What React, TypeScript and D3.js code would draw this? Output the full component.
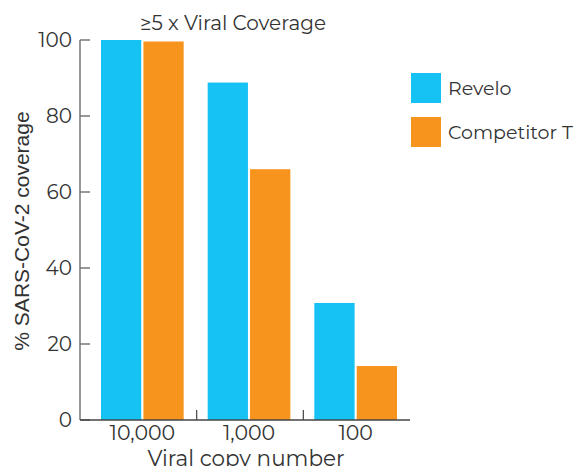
import * as d3 from 'd3';
import React from 'react';

const groups = ['10,000', '1,000', '100'];
const seriesNames = ['Revelo', 'Competitor T'];
const revelo = [100, 88.8, 30.8];
const competitor = [99.6, 66, 14.2];
const yTicks = [0, 20, 40, 60, 80, 100];
const colors = ['#16C1F3', '#F7941D'];

const W = 579;
const H = 466;
const font = "'Montserrat', 'Lato', 'Noto Sans', sans-serif";

const App = () => {
  const x = d3.scaleBand().domain(groups).range([89, 409]);
  const inner = d3
    .scaleBand()
    .domain(seriesNames)
    .range([12, x.bandwidth() - 12])
    .paddingInner(0.05);
  const y = d3.scaleLinear().domain([0, 100]).range([420, 40]);
  const series = [revelo, competitor];

  return (
    <svg
      width={W}
      height={H}
      style={{ position: 'absolute', left: 0, top: 0, background: '#fff' }}
    >
      <text x={233} y={30} textAnchor="middle" fontSize={20} fill="#333" fontFamily={font}>
        ≥5 x Viral Coverage
      </text>

      {series.map((vals, si) =>
        vals.map((v, gi) => (
          <rect
            key={`${si}-${gi}`}
            x={(x(groups[gi]) ?? 0) + (inner(seriesNames[si]) ?? 0)}
            y={y(v)}
            width={inner.bandwidth()}
            height={y(0) - y(v)}
            fill={colors[si]}
          />
        ))
      )}

      {/* y axis */}
      <line x1={80} x2={80} y1={y(100)} y2={y(0)} stroke="#777" strokeWidth={1.5} />
      {yTicks.map((t) => (
        <g key={t}>
          <line x1={80} x2={90} y1={y(t)} y2={y(t)} stroke="#777" strokeWidth={1.5} />
          <text
            x={72}
            y={y(t)}
            dy="0.35em"
            textAnchor="end"
            fontSize={20}
            fill="#333"
            fontFamily={font}
          >
            {t}
          </text>
        </g>
      ))}

      {/* x axis */}
      <line x1={80} x2={410} y1={y(0)} y2={y(0)} stroke="#444" strokeWidth={1.5} />
      {groups.slice(1).map((g) => (
        <line
          key={g}
          x1={x(g)! + 1}
          x2={x(g)! + 1}
          y1={y(0)}
          y2={y(0) - 10}
          stroke="#444"
          strokeWidth={1.2}
        />
      ))}
      {groups.map((g) => (
        <text
          key={g}
          x={x(g)! + x.bandwidth() / 2}
          y={440}
          textAnchor="middle"
          fontSize={20.5}
          fill="#333"
          fontFamily={font}
        >
          {g}
        </text>
      ))}
      <text x={246} y={466} textAnchor="middle" fontSize={21.5} fill="#333" fontFamily={font}>
        Viral copy number
      </text>
      <text
        transform={`translate(29,231) rotate(-90)`}
        textAnchor="middle"
        fontSize={21}
        fill="#333"
        fontFamily="'Liberation Sans', Arial, sans-serif"
      >
        % SARS-CoV-2 coverage
      </text>

      {/* legend */}
      {seriesNames.map((n, i) => (
        <g key={n} transform={`translate(411,${73 + i * 44})`}>
          <rect width={30} height={30} fill={colors[i]} />
          <text x={37} y={15} dy="0.35em" fontSize={19} fill="#333" fontFamily={font}>
            {n}
          </text>
        </g>
      ))}
    </svg>
  );
};

export default App;
